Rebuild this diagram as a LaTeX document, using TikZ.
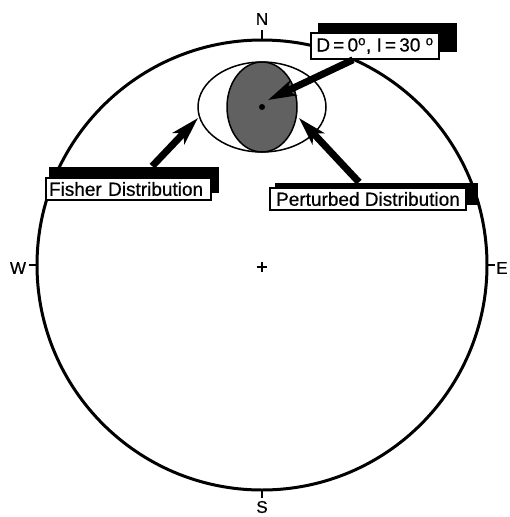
\documentclass[tikz,border=0pt]{standalone}
\usepackage{fontspec}
\setmainfont{Liberation Sans}[FakeBold=0.6]
\usetikzlibrary{positioning,shapes.geometric,arrows.meta,calc}

\begin{document}
\begin{tikzpicture}[
    x=1pt, y=-1pt,
    font=\fontsize{19}{20}\selectfont,
    net/.style   = {draw=black, line width=3pt},
    tick/.style  = {draw=black, line width=2.5pt},
    dir/.style   = {inner sep=0pt, font=\fontsize{17}{18}\selectfont},
    tag/.style   = {draw=black, line width=1.6pt, fill=white, inner xsep=3pt,
                    inner ysep=1pt, minimum height=22pt},
    shade/.style = {fill=black},
    ptr/.style   = {-{Stealth[length=28pt,width=16pt,inset=7pt]},
                    line width=7pt, draw=black},
]
\useasboundingbox (0,0) rectangle (509,517);

%============================ NET ===================================
\node[circle, minimum size=450pt, inner sep=0pt] (net) at (262,265) {};
\draw[net] (net) circle[radius=225];

\draw[tick] (net.north) -- ++(0,-10);
\draw[tick] (net.south) -- ++(0,8);
\draw[tick] (net.west) -- ++(-8,0);
\draw[tick] (net.east) -- ++(8,0);
\node[dir] (lblN) at (262,19) {N};
\node[dir] (lblS) at (262,507) {S};
\node[dir] (lblW) at (18,268) {W};
\node[dir] (lblE) at (502,268) {E};

% --- centre cross
\draw[line width=2.2pt] ($(net.center)+(-5,2)$) -- ($(net.center)+(5,2)$);
\draw[line width=2.2pt] ($(net.center)+(0,-3)$) -- ($(net.center)+(0,7)$);

%========================== DISTRIBUTIONS ===========================
\node[ellipse, draw=black, line width=1.5pt, minimum width=128pt,
      minimum height=90pt, inner sep=0pt] (fisher) at (262,107) {};
\node[ellipse, draw=black, line width=1.5pt, fill=black!62,
      minimum width=70pt, minimum height=90pt, inner sep=0pt]
      (pert) at (262,107) {};
\fill (pert.center) circle[radius=3];

%============================ LABELS ================================
% --- shadows first, boxes on top
\coordinate (dpos) at (375,46);
\coordinate (fpos) at (128.5,189);
\coordinate (ppos) at (368,199);
\fill[shade] ($(dpos)+(-57,-23)$) rectangle ($(dpos)+(82,6)$);
\fill[shade] ($(fpos)+(-80,-22)$) rectangle ($(fpos)+(90,4)$);
\fill[shade] ($(ppos)+(-93,-16)$) rectangle ($(ppos)+(110,6)$);

\node[tag, minimum width=128pt, minimum height=26pt] (dval) at (dpos)
      {D\,=\,0\textsuperscript{o}, I\,=\,30 \textsuperscript{o}};
\node[tag, text width=159pt, align=left] (lblF) at (fpos)
      {Fisher Distribution};
\node[tag, minimum width=196pt] (lblP) at (ppos)
      {Perturbed Distribution};

%============================ POINTERS ==============================
\coordinate (dtip) at (268,100);
\coordinate (ftip) at (198,118);
\coordinate (ptip) at (299,118);
\draw[ptr] ([xshift=-22pt]dval.south) -- (dtip);
\draw[ptr] ([xshift=107pt,yshift=11pt]lblF.north west) -- (ftip);
\draw[ptr] ([xshift=-9pt,yshift=5pt]lblP.north) -- (ptip);

\end{tikzpicture}
\end{document}
